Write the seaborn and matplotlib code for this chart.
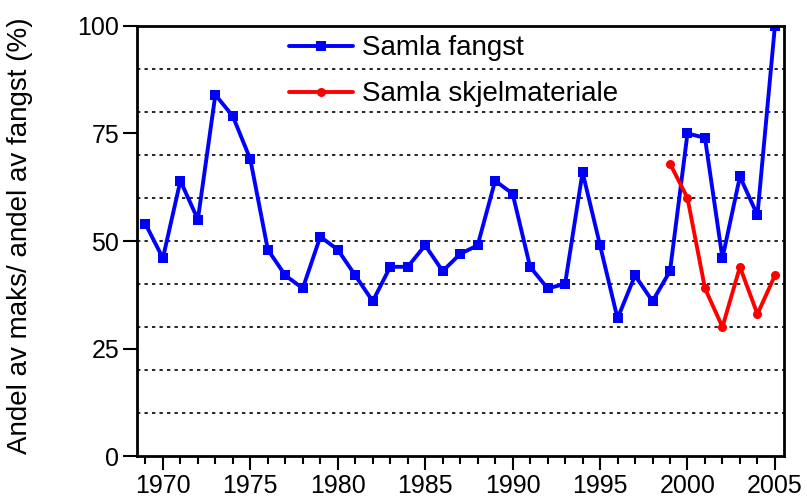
import numpy as np
import pandas as pd
import matplotlib
matplotlib.use("Agg")
import matplotlib.pyplot as plt
import seaborn as sns
from matplotlib.ticker import MultipleLocator

# data
years_catch = list(range(1969, 2006))
catch = [54, 46, 64, 55, 84, 79, 69, 48, 42, 39, 51, 48, 42, 36, 44, 44, 49, 43,
         47, 49, 64, 61, 44, 39, 40, 66, 49, 32, 42, 36, 43, 75, 74, 46, 65, 56, 100]
years_scale = list(range(1999, 2006))
scale = [68, 60, 39, 30, 44, 33, 42]

label_catch = "Samla fangst"
label_scale = "Samla skjelmateriale"
ylabel = "Andel av maks/ andel av fangst (%)"

sns.set_style("white")
plt.rcParams['font.family'] = ['Liberation Sans', 'DejaVu Sans']
plt.rcParams.update({"text.color": "black", "axes.labelcolor": "black",
                     "xtick.color": "black", "ytick.color": "black"})

fig = plt.figure(figsize=(8.07, 4.99), dpi=100)
ax = fig.add_axes([0.170, 0.086, 0.8015, 0.862])

df1 = pd.DataFrame({"year": years_catch, "value": catch})
df2 = pd.DataFrame({"year": years_scale, "value": scale})

sns.lineplot(data=df1, x="year", y="value", ax=ax, color="#0000ff", linewidth=2.8,
             marker="s", markersize=7, markeredgewidth=0, label=label_catch)
sns.lineplot(data=df2, x="year", y="value", ax=ax, color="#ff0000", linewidth=2.8,
             marker="o", markersize=6.5, markeredgewidth=0, label=label_scale)

# dotted reference lines
for g in range(10, 100, 10):
    ax.axhline(g, color="black", linestyle=(0, (2, 2.5)), linewidth=1.2, zorder=0)

ax.set_xlim(1968.53, 2005.52)
ax.set_ylim(0, 100)
ax.yaxis.set_major_locator(MultipleLocator(25))
ax.set_xticks(range(1970, 2006, 5))
ax.xaxis.set_minor_locator(MultipleLocator(1))

ax.tick_params(axis="both", which="major", direction="out", length=10, width=1.5,
               labelsize=18, color="black", labelcolor="black", pad=3)
ax.tick_params(axis="x", which="minor", direction="out", length=6, width=1.5, color="black")
ax.tick_params(axis="x", which="both", bottom=True)
ax.tick_params(axis="y", left=True)

for sp in ax.spines.values():
    sp.set_linewidth(2)
    sp.set_color("black")

ax.set_xlabel("")
ax.set_ylabel(ylabel, fontsize=20, color="black")
ax.yaxis.set_label_coords(-0.161, 0.512)

leg = ax.legend(loc="upper left", bbox_to_anchor=(0.235, 0.978), frameon=False,
                fontsize=20, handlelength=2.3, labelspacing=0.72, handletextpad=0.33,
                borderpad=0, borderaxespad=0)
for t in leg.get_texts():
    t.set_color("black")

fig.savefig("out.png", dpi=100)
